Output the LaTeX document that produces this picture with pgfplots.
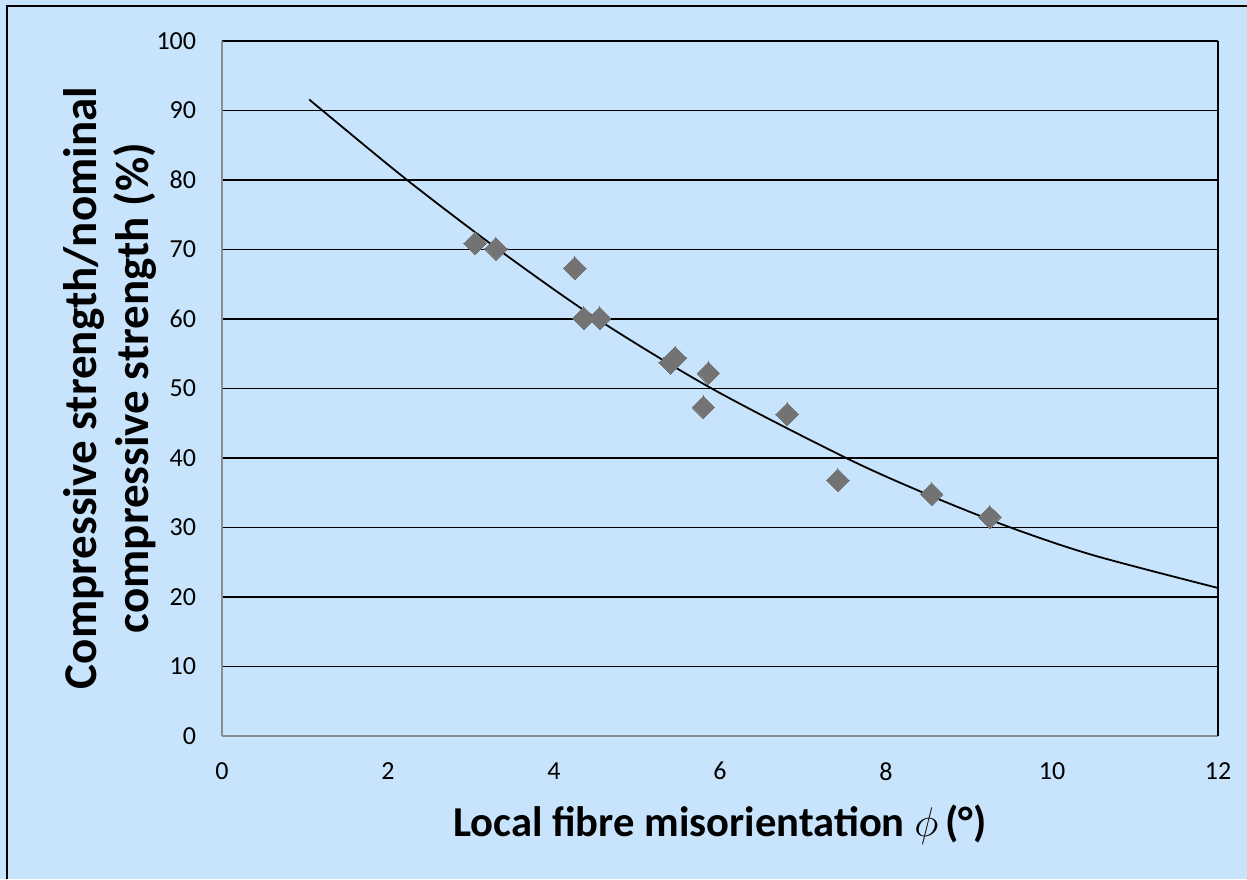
\documentclass[border=0pt]{standalone}
\usepackage{pgfplots}
\pgfplotsset{compat=1.18}
\usepackage{fontspec}
\setmainfont{Carlito}
\definecolor{bgblue}{RGB}{199,228,252}
\definecolor{markgray}{RGB}{115,115,115}
\definecolor{axgray}{RGB}{140,140,140}
\begin{document}
\begin{tikzpicture}[x=1pt,y=1pt]
\useasboundingbox (0,0) rectangle (623.5,439.5);
\fill[bgblue] (0,0) rectangle (623.5,439.5);
\draw[black,line width=0.9pt] (3.35,0) -- (3.35,436.65) -- (623.5,436.65);
\begin{axis}[
  at={(111pt,71.5pt)}, anchor=south west,
  scale only axis, width=498pt, height=347.5pt,
  xmin=0, xmax=12, ymin=0, ymax=100,
  xtick={0,2,...,12}, ytick={0,10,...,100},
  axis x line*=bottom, axis y line*=left,
  axis line style={axgray, line width=1pt, -},
  ymajorgrids, grid style={black, line width=0.85pt},
  tick align=inside, major tick length=0pt,
  /pgf/number format/assume math mode=true,
  tick label style={font=\fontsize{13}{15}\selectfont, inner sep=0pt},
  xticklabel style={anchor=north, yshift=-13pt},
  yticklabel style={anchor=east, xshift=-12.75pt},
  clip=false,
]
\draw[black, line width=0.85pt] (axis cs:12,0) -- (axis cs:12,100);
\addplot[black, line width=0.9pt, smooth, no markers] coordinates {
  (1.05,91.6) (1.21,90) (2.23,80) (3.33,70) (4.52,60) (5.90,50)
  (7.52,40) (8.55,34.5) (9.5,30) (10.5,26.0) (12,21.3)
};
\addplot[only marks, mark=square*, mark size=4pt,
  mark options={rotate=45, fill=markgray, draw=markgray, line width=0pt}] coordinates {
  (3.05,70.9) (3.30,70.1) (4.25,67.3) (4.36,60.1) (4.55,60.1)
  (5.40,53.7) (5.46,54.4) (5.86,52.2) (5.80,47.3) (6.81,46.3)
  (7.42,36.8) (8.55,34.8) (9.25,31.5)
};
\end{axis}
\node[anchor=base, inner sep=0pt, font=\fontsize{21.3}{25}\selectfont\bfseries] at (360,21.5)
  {Local fibre misorientation $\phi$\,(°)};
\node[rotate=90, align=center, inner sep=0pt, font=\fontsize{23.5}{26}\selectfont\bfseries] at (55,245.5)
  {Compressive strength/nominal\\compressive strength (\%)};
\end{tikzpicture}
\end{document}
